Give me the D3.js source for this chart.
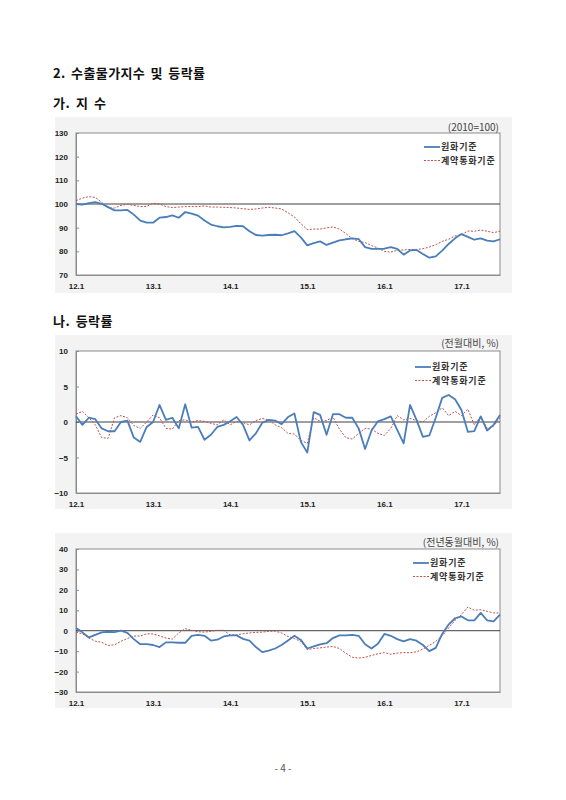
<!DOCTYPE html>
<html>
<head>
<meta charset="utf-8">
<script src="https://cdn.jsdelivr.net/npm/d3@7"></script>
<style>
  body { margin: 0; background: #fff; }
  svg { display: block; font-family: "Noto Sans CJK KR", "Noto Sans", sans-serif; }
</style>
</head>
<body>
<svg id="page" width="566" height="800"></svg>
<script>
// months 12.1 .. 17.7
var months = d3.range(67);
var tickLabels = ["12.1", "13.1", "14.1", "15.1", "16.1", "17.1"];
var seriesNames = ["원화기준", "계약통화기준"];

// 가. 지수 (2010=100)
var idxKrw = [100, 99.7, 100.4, 100.8, 100.1, 98.7, 97.3, 97.3, 97.5, 95.5, 93, 92.1,
  92.1, 94.2, 94.5, 95.2, 94.2, 96.6, 95.9, 95.1, 93, 91.3, 90.6, 90.1,
  90.3, 90.8, 90.6, 88.5, 86.9, 86.6, 86.9, 87, 86.8, 87.6, 88.5, 85.9,
  82.5, 83.5, 84.2, 82.7, 83.7, 84.6, 85.1, 85.5, 85.2, 81.8, 81, 81,
  81.1, 81.8, 81, 78.6, 80.4, 80.6, 78.9, 77.3, 77.9, 80.3, 83.1, 85.5,
  87.3, 86.1, 84.9, 85.5, 84.5, 84.2, 85.1];
var idxCtr = [101.4, 102.5, 103.1, 102.8, 100.7, 98.3, 98.3, 99.4, 99.9, 99.4, 98.9, 99,
  100.3, 100, 98.9, 98.5, 98.7, 98.9, 98.9, 98.9, 99.2, 98.7, 98.7, 98.6,
  98.5, 98.3, 98, 97.7, 97.9, 98.3, 98.6, 98.3, 97.9, 96.3, 94.5, 91.7,
  89.2, 89.4, 89.4, 89.9, 90.3, 89.4, 87.5, 85.4, 84.2, 83.7, 82.4, 81.4,
  80, 79.7, 80.4, 80.6, 80.8, 80.8, 81.1, 81.8, 82.8, 84.2, 85.1, 86.5,
  87, 88.6, 88.5, 89, 88.5, 87.9, 88.5];

// 나. 등락률 - 전월대비 (%)
var momKrw = [0.8, -0.4, 0.6, 0.4, -0.9, -1.3, -1.3, 0, 0.2, -2.2, -2.8, -0.7,
  0, 2.4, 0.3, 0.6, -0.9, 2.5, -0.8, -0.7, -2.5, -1.8, -0.7, -0.4,
  0.1, 0.7, -0.4, -2.6, -1.6, -0.1, 0.3, 0.2, -0.3, 0.7, 1.2, -2.8,
  -4.3, 1.4, 1.0, -1.8, 1.1, 1.1, 0.6, 0.6, -0.9, -3.8, -1.2, 0.1,
  0.4, 0.8, -1.1, -3.0, 2.4, 0.3, -2.1, -1.9, 0.6, 3.4, 3.8, 3.2,
  1.7, -1.4, -1.3, 0.8, -1.2, -0.4, 1.0];
var momCtr = [1.1, 1.5, 0.6, -0.4, -2.2, -2.3, 0.6, 0.9, 0.6, -0.5, -0.9, 0,
  1.0, 0.6, -0.9, -1.0, 0.2, 0.3, 0, 0.2, 0.1, -0.2, -0.4, 0.3,
  -0.4, 0.1, -0.1, -0.4, 0.2, 0.5, 0.3, -0.4, -0.8, -1.6, -1.7, -2.6,
  -3.0, 0.6, 0.1, 0.2, 0.7, -1.0, -2.2, -2.4, -1.6, -0.9, -1.0, -1.6,
  -1.9, -0.9, 0.9, 0.3, 0.5, 0.2, 0, 0.8, 1.3, 2.0, 0.9, 1.5,
  0.9, 1.8, -0.4, 0.8, -0.9, -0.6, 0.6];

// 전년동월대비 (%)
var yoyKrw = [1.3, -0.8, -3.3, -2, -0.8, -0.5, -0.7, 0, -1.1, -4.1, -6.6, -6.6,
  -7, -8, -5.7, -5.7, -5.9, -5.9, -2.5, -2, -2.5, -4.8, -4.4, -2.8,
  -2.3, -2.3, -4, -4.8, -8, -10.5, -9.7, -8.7, -7, -4.8, -2.5, -4.5,
  -8.7, -7.7, -6.7, -6.1, -3.6, -2.3, -2.3, -2, -2.5, -6.6, -8.7, -6.4,
  -1.6, -2.5, -4.1, -5.2, -4.1, -4.9, -7, -10, -8.4, -1.6, 3, 6.1,
  7, 5.1, 5.1, 8.7, 5.1, 4.6, 7.9];
var yoyCtr = [-0.7, -1.5, -3.6, -5.1, -5.7, -7.2, -6.9, -5.2, -3.8, -2.6, -2.6, -1.5,
  -1.6, -2.5, -3.6, -4.1, -1.1, 1, 0.2, -0.5, -0.7, -0.3, 0.2, 0.2,
  -2.1, -2, -1.5, -1.1, -0.8, -0.7, -0.3, -0.2, -1.1, -2.8, -3.9, -5.2,
  -9.3, -8.7, -8.4, -8, -7.7, -8.7, -11, -13, -13.4, -13, -12.1, -11.3,
  -10.7, -11.5, -11, -10.7, -10.8, -10.3, -9, -7.2, -5.2, -2.5, 1.3, 5.1,
  7.9, 11.6, 10, 10.3, 9.5, 8.7, 8.7];

var svg = d3.select("#page");
var blue = "#4a7ebb", red = "#c0504d";

function heading(text, x, y, size, spacing) {
  svg.append("text").attr("x", x).attr("y", y)
    .attr("font-size", size).attr("font-weight", "bold").attr("fill", "#111")
    .attr("letter-spacing", spacing).attr("word-spacing", 2)
    .text(text);
}

heading("2. 수출물가지수 및 등락률", 53, 78, 13, 0.4);
heading("가. 지 수", 53, 108, 13, 0.6);
heading("나. 등락률", 53, 326, 13, 0.5);

function drawPanel(o) {
  var g = svg.append("g");
  g.append("rect").attr("x", 55).attr("y", o.boxTop).attr("width", 457)
    .attr("height", o.boxBottom - o.boxTop).attr("fill", "#f3f3f3");

  var x = d3.scaleLinear().domain([0, 66]).range([76, 500]);
  var y = d3.scaleLinear().domain(o.domain).range([o.bottom, o.top]);

  g.append("rect").attr("x", 76).attr("y", o.top).attr("width", 424)
    .attr("height", o.bottom - o.top).attr("fill", "#fff")
    .attr("stroke", "#8c8c8c").attr("stroke-width", 1);

  var yAxis = d3.axisLeft(y).tickValues(o.ticks).tickSize(-3).tickPadding(8);
  var ya = g.append("g").attr("transform", "translate(76,0)").call(yAxis);
  ya.select(".domain").attr("stroke", "#8c8c8c");
  ya.selectAll(".tick line").attr("stroke", "#8c8c8c");
  ya.selectAll("text").attr("font-size", 8).attr("font-weight", "bold")
    .attr("fill", "#222").attr("font-family", "Arial, 'Liberation Sans', sans-serif");

  var xAxis = d3.axisBottom(x).tickValues([0, 12, 24, 36, 48, 60])
    .tickFormat(function(d, i) { return tickLabels[i]; }).tickSize(0).tickPadding(8);
  var xa = g.append("g").attr("transform", "translate(0," + o.bottom + ")").call(xAxis);
  xa.select(".domain").attr("stroke", "#8c8c8c");
  xa.selectAll("text").attr("font-size", 8).attr("font-weight", "bold")
    .attr("fill", "#222").attr("font-family", "Arial, 'Liberation Sans', sans-serif");

  g.append("line").attr("x1", 76).attr("x2", 500)
    .attr("y1", y(o.base)).attr("y2", y(o.base))
    .attr("stroke", "#404040").attr("stroke-width", 1);

  var line = d3.line().x(function(d, i) { return x(i); }).y(function(d) { return y(d); });
  g.append("path").datum(o.ctr).attr("d", line).attr("fill", "none")
    .attr("stroke", red).attr("stroke-width", 1).attr("stroke-dasharray", "2,1.5");
  g.append("path").datum(o.krw).attr("d", line).attr("fill", "none")
    .attr("stroke", blue).attr("stroke-width", 1.8).attr("stroke-linejoin", "round");

  g.append("text").attr("x", 499).attr("y", o.unitY).attr("text-anchor", "end")
    .attr("font-size", 10).attr("fill", "#444").text(o.unit);

  var leg = g.append("g");
  leg.append("line").attr("x1", o.legX).attr("x2", o.legX + 16)
    .attr("y1", o.legY).attr("y2", o.legY).attr("stroke", blue).attr("stroke-width", 1.8);
  leg.append("line").attr("x1", o.legX).attr("x2", o.legX + 16)
    .attr("y1", o.legY + 13.5).attr("y2", o.legY + 13.5).attr("stroke", red)
    .attr("stroke-width", 1).attr("stroke-dasharray", "2,1.5");
  seriesNames.forEach(function(n, i) {
    leg.append("text").attr("x", o.legX + 17).attr("y", o.legY + 13.5 * i + 3.2)
      .attr("font-size", 9).attr("letter-spacing", 0.8)
      .attr("font-weight", "bold").attr("fill", "#333").text(n);
  });
}

drawPanel({
  boxTop: 117, boxBottom: 293, top: 133, bottom: 275,
  domain: [70, 130], ticks: [70, 80, 90, 100, 110, 120, 130], base: 100,
  krw: idxKrw, ctr: idxCtr, unit: "(2010=100)", unitY: 131, legX: 424, legY: 147
});
drawPanel({
  boxTop: 335, boxBottom: 509, top: 351, bottom: 493,
  domain: [-10, 10], ticks: [-10, -5, 0, 5, 10], base: 0,
  krw: momKrw, ctr: momCtr, unit: "(전월대비, %)", unitY: 347, legX: 415, legY: 367
});
drawPanel({
  boxTop: 533, boxBottom: 708, top: 549, bottom: 692,
  domain: [-30, 40], ticks: [-30, -20, -10, 0, 10, 20, 30, 40], base: 0,
  krw: yoyKrw, ctr: yoyCtr, unit: "(전년동월대비, %)", unitY: 546, legX: 413, legY: 563
});

svg.append("text").attr("x", 283).attr("y", 772).attr("text-anchor", "middle")
  .attr("font-size", 10).attr("fill", "#555").text("- 4 -");
</script>
</body>
</html>
